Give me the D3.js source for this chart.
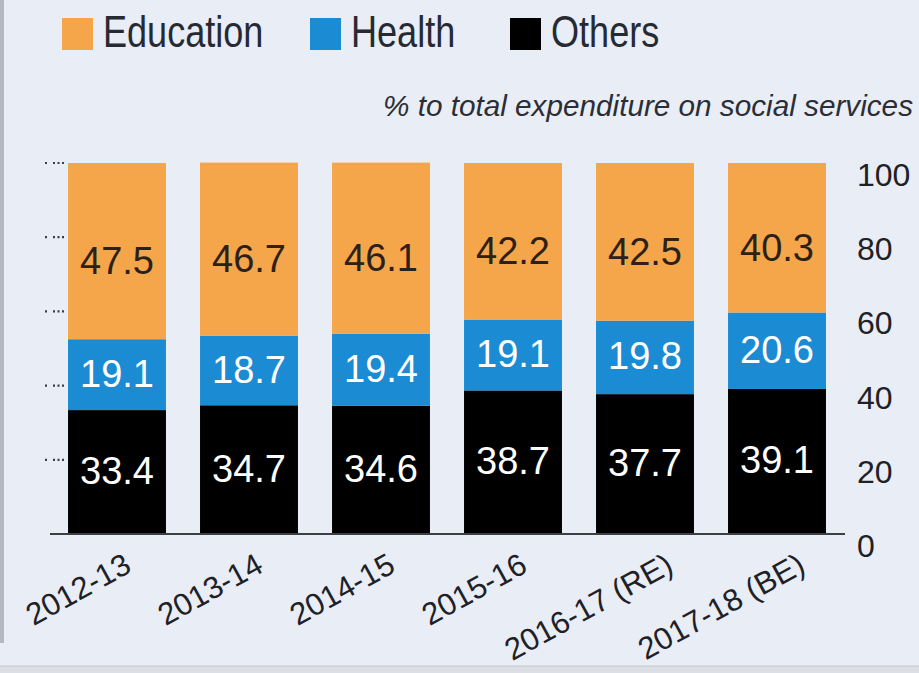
<!DOCTYPE html>
<html>
<head>
    <script src="https://cdn.jsdelivr.net/npm/d3@7/dist/d3.min.js"></script>
    <style>
        body { margin: 0; background: #e9edf6; }
        svg { display: block; }
    </style>
</head>
<body>
    <svg width="919" height="673"></svg>
    <script>
        // data
        var years = ["2012-13", "2013-14", "2014-15", "2015-16", "2016-17 (RE)", "2017-18 (BE)"];
        var others = [33.4, 34.7, 34.6, 38.7, 37.7, 39.1];
        var health = [19.1, 18.7, 19.4, 19.1, 19.8, 20.6];
        var education = [47.5, 46.7, 46.1, 42.2, 42.5, 40.3];
        var yTicks = [0, 20, 40, 60, 80, 100];
        var seriesNames = ["Education", "Health", "Others"];
        var subtitle = "% to total expenditure on social services";

        var colors = { Education: "#f5a54a", Health: "#1b8bd3", Others: "#000000" };
        var labelColors = { Education: "#2b2118", Health: "#ffffff", Others: "#ffffff" };

        var svg = d3.select("svg");
        var regular = "'Liberation Sans', Arial, sans-serif";

        // frame bits
        svg.append("rect").attr("x", 0).attr("y", 0).attr("width", 4).attr("height", 643).attr("fill", "#b4b8c0");
        svg.append("rect").attr("x", 0).attr("y", 666).attr("width", 919).attr("height", 7).attr("fill", "#dcdfe6");
        svg.append("line").attr("x1", 0).attr("x2", 919).attr("y1", 666).attr("y2", 666)
            .attr("stroke", "#c4c7ce").attr("stroke-width", 1);

        var x = d3.scaleBand()
            .domain(years)
            .range([51, 843])
            .paddingInner(0.258)
            .paddingOuter(0.129);

        var y = d3.scaleLinear()
            .domain([0, 100])
            .range([534, 163]);

        // stack the series: Others at the bottom, then Health, then Education
        var rows = years.map(function(yr, i) {
            return { year: yr, Others: others[i], Health: health[i], Education: education[i] };
        });
        var stack = d3.stack().keys(["Others", "Health", "Education"]);
        var layers = stack(rows);

        var g = svg.append("g");

        layers.forEach(function(layer) {
            var key = layer.key;
            g.selectAll(".bar-" + key)
                .data(layer)
                .enter().append("rect")
                .attr("x", function(d) { return x(d.data.year); })
                .attr("width", x.bandwidth())
                .attr("y", function(d) { return y(d[1]); })
                .attr("height", function(d) { return y(d[0]) - y(d[1]); })
                .attr("fill", colors[key]);

            g.selectAll(".lab-" + key)
                .data(layer)
                .enter().append("text")
                .attr("x", function(d) { return x(d.data.year) + x.bandwidth() / 2; })
                .attr("y", function(d) {
                    var mid = (y(d[0]) + y(d[1])) / 2;
                    return key == "Education" ? mid + 10 : mid - 1;
                })
                .attr("text-anchor", "middle")
                .attr("dominant-baseline", "central")
                .attr("font-family", regular)
                .attr("font-size", 38)
                .attr("fill", labelColors[key])
                .text(function(d) { return d.data[key].toFixed(1); });
        });

        // baseline
        svg.append("line")
            .attr("x1", 50).attr("x2", 845)
            .attr("y1", y(0)).attr("y2", y(0))
            .attr("stroke", "#3d3f44").attr("stroke-width", 2);

        // dotted ticks on the left
        svg.selectAll(".dot-tick")
            .data(yTicks.filter(function(v) { return v > 0; }))
            .enter().append("line")
            .attr("x1", 45).attr("x2", 66)
            .attr("y1", function(v) { return y(v); })
            .attr("y2", function(v) { return y(v); })
            .attr("stroke", "#3a3e46").attr("stroke-width", 2.2)
            .attr("stroke-dasharray", "2,6,2,2.5,2,2.5,2,40");

        // right axis labels
        svg.selectAll(".ytick")
            .data(yTicks)
            .enter().append("text")
            .attr("x", 857)
            .attr("y", function(v) { return y(v) + 12; })
            .attr("dominant-baseline", "central")
            .attr("font-family", regular)
            .attr("font-size", 32)
            .attr("fill", "#1e2126")
            .text(function(v) { return v; });

        // x labels, slanted
        svg.selectAll(".xlab")
            .data(years)
            .enter().append("text")
            .attr("transform", function(d) {
                var shift = d.length > 8 ? 30 : 16;
                return "translate(" + (x(d) + x.bandwidth() / 2 + shift) + ",571) rotate(-29)";
            })
            .attr("text-anchor", "end")
            .attr("font-family", regular)
            .attr("font-size", 31)
            .attr("fill", "#1e2126")
            .text(function(d) { return d; });

        // legend (narrow type, squeezed horizontally)
        var legendX = [62, 310, 510];
        var legend = svg.selectAll(".legend")
            .data(seriesNames)
            .enter().append("g")
            .attr("transform", function(d, i) { return "translate(" + legendX[i] + ",18)"; });
        legend.append("rect")
            .attr("width", 31).attr("height", 32)
            .attr("fill", function(d) { return colors[d]; });
        legend.append("text")
            .attr("transform", "translate(41,29) scale(0.82,1)")
            .attr("font-family", regular)
            .attr("font-size", 44)
            .attr("fill", "#262a33")
            .text(function(d) { return d; });

        // subtitle
        svg.append("text")
            .attr("x", 383).attr("y", 116)
            .attr("font-family", regular)
            .attr("font-style", "italic")
            .attr("font-size", 29)
            .attr("textLength", 530)
            .attr("lengthAdjust", "spacingAndGlyphs")
            .attr("fill", "#2b2e35")
            .text(subtitle);
    </script>
</body>
</html>
